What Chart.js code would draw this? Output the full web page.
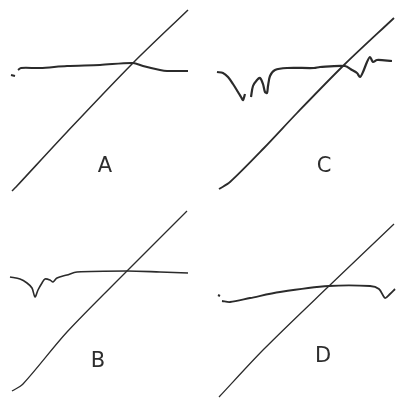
<!DOCTYPE html>
<html lang="en">
<head>
  <meta charset="UTF-8" />
  <title>Panels A-D</title>
  <script src="https://cdn.jsdelivr.net/npm/chart.js"></script>
  <style>
    * { box-sizing: border-box; margin: 0; padding: 0; }
    body { background: #fff; width: 397px; height: 399px; position: relative; overflow: hidden; }
    .panel { position: absolute; }
  </style>
</head>
<body>
  <div class="panel" style="left:0;top:0;width:198px;height:199px"><canvas id="chartA"></canvas></div>
  <div class="panel" style="left:198px;top:0;width:199px;height:199px"><canvas id="chartC"></canvas></div>
  <div class="panel" style="left:0;top:199px;width:198px;height:200px"><canvas id="chartB"></canvas></div>
  <div class="panel" style="left:198px;top:199px;width:199px;height:200px"><canvas id="chartD"></canvas></div>

  <script>
    // traces, [x, y] with y growing downwards
    const diagA = [[12,191],[16,187],[67,132],[133,63],[188,10]];
    const traceA = [[18,70],[21,68],[40,68],[67,66],[100,65],[133,63],[143,66],[160,70],[167,71],[188,71]];
    const tickA = [[11,75],[15,76]];

    const diagC = [[219,189],[230,182],[264,148],[297,113],[344,65],[394,18]];
    const traceC = [[217,72],[223,73],[228,77],[233,84],[238,92],[241,97],[243,100],[245,94]];
    const traceC2 = [[251,97],[253,86],[257,80],[260,78],[263,84],[265,92],[267,93],[268,86],[270,76],[275,70],[287,68],
                     [314,68],[320,67],[345,66],[352,70],[357,73],[360,77],[363,72],[367,62],[370,57],[373,62],[377,60],[392,61]];

    const diagB = [[12,391],[23,384],[67,332],[127,271],[187,211]];
    const traceB = [[10,277],[20,279],[27,283],[32,288],[35,297],[38,290],[42,283],[45,279],[50,280],[53,282],[57,278],
                    [67,275],[77,272],[127,271],[160,272],[188,273]];

    const diagD = [[219,397],[264,349],[329,286],[394,224]];
    const traceD = [[222,301],[230,302],[250,298],[280,292],[329,286],[370,286],[379,289],[385,298],[390,294],[395,289]];
    const tickD = [[218,295],[220,296]];

    const labels = { A: [105,167], C: [324,167], B: [98,362], D: [323,357] };

    const pts = arr => arr.map(p => ({ x: p[0], y: p[1] }));

    const letterPlugin = {
      id: "letter",
      afterDatasetsDraw(chart, args, opts) {
        const { ctx, scales } = chart;
        const pos = labels[opts.text];
        ctx.save();
        ctx.fillStyle = "#2e2e2e";
        ctx.font = "21px 'DejaVu Sans', sans-serif";
        ctx.textAlign = "center";
        ctx.textBaseline = "middle";
        ctx.fillText(opts.text, scales.x.getPixelForValue(pos[0]), scales.y.getPixelForValue(pos[1]));
        ctx.restore();
      }
    };

    function makePanel(id, letter, xRange, yRange, lines) {
      new Chart(document.getElementById(id), {
        type: "scatter",
        data: {
          datasets: lines.map(l => ({
            data: pts(l.data),
            showLine: true,
            borderColor: "#2b2b2b",
            borderWidth: l.w,
            pointRadius: 0,
            tension: 0.3
          }))
        },
        options: {
          responsive: true,
          maintainAspectRatio: false,
          animation: false,
          layout: { padding: 0 },
          scales: {
            x: { type: "linear", display: false, min: xRange[0], max: xRange[1] },
            y: { type: "linear", display: false, reverse: true, min: yRange[0], max: yRange[1] }
          },
          plugins: { legend: { display: false }, tooltip: { enabled: false }, letter: { text: letter } }
        },
        plugins: [letterPlugin]
      });
    }

    makePanel("chartA", "A", [0,198], [0,199], [
      { data: diagA, w: 1.5 }, { data: traceA, w: 2 }, { data: tickA, w: 2 }
    ]);
    makePanel("chartC", "C", [198,397], [0,199], [
      { data: diagC, w: 1.8 }, { data: traceC, w: 2.2 }, { data: traceC2, w: 2.2 }
    ]);
    makePanel("chartB", "B", [0,198], [199,399], [
      { data: diagB, w: 1.3 }, { data: traceB, w: 1.6 }
    ]);
    makePanel("chartD", "D", [198,397], [199,399], [
      { data: diagD, w: 1.3 }, { data: traceD, w: 1.8 }, { data: tickD, w: 2 }
    ]);
  </script>
</body>
</html>
